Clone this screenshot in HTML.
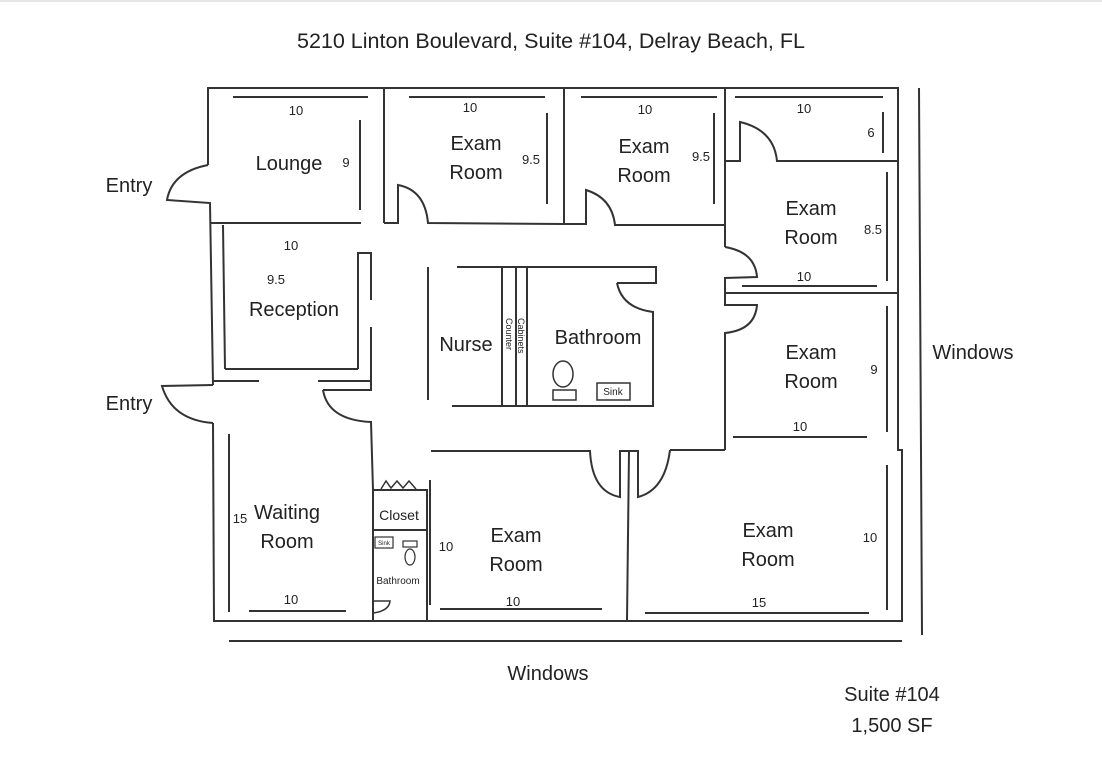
<!DOCTYPE html>
<html><head><meta charset="utf-8"><style>
html,body{margin:0;padding:0;background:#fff;}
svg{display:block}
text{font-family:"Liberation Sans",sans-serif;fill:#222;}
</style></head><body>
<svg width="1102" height="771" viewBox="0 0 1102 771" xmlns="http://www.w3.org/2000/svg">
<rect x="0" y="0" width="1102" height="2" fill="#e6e6e6"/>
<text x="551" y="48" font-size="21.5" text-anchor="middle" fill="#000">5210 Linton Boulevard, Suite #104, Delray Beach, FL</text>
<g fill="none" stroke="#333" stroke-width="2">
<!-- outer -->
<polyline points="208,165 208,88 898,88 898,450 902,450 902,621 214,621 213,423"/>
<path d="M208,165 Q172,172 167,200 L210,203 L213,385"/>
<path d="M213,385 L162,386 Q172,420 213,423"/>
<line x1="213" y1="381" x2="259" y2="381"/>
<!-- lounge -->
<line x1="210" y1="223" x2="361" y2="223"/>
<line x1="233" y1="97" x2="368" y2="97"/>
<line x1="360" y1="120" x2="360" y2="210"/>
<!-- reception -->
<line x1="223" y1="225" x2="225" y2="369"/>
<line x1="225" y1="369" x2="358" y2="369"/>
<polyline points="358,369 358,253 371,253 371,300"/>
<polyline points="371,327 371,390 323,390"/>
<line x1="318" y1="381" x2="371" y2="381"/>
<path d="M323,390 Q328,420 371,422 L373,490"/>
<!-- waiting -->
<line x1="229" y1="434" x2="229" y2="612"/>
<line x1="249" y1="611" x2="346" y2="611"/>
<!-- closet / bath -->
<polyline points="373,621 373,490 427,490 427,621"/>
<line x1="373" y1="530" x2="427" y2="530"/>
<polyline points="381,489 386,481 391,488 397,481 403,488 409,481 416,489" stroke-width="1.5"/>
<rect x="375" y="537" width="18" height="11" stroke-width="1.2"/>
<rect x="403" y="541" width="14" height="6" stroke-width="1.2"/>
<ellipse cx="410" cy="557" rx="5" ry="8" stroke-width="1.2"/>
<path d="M373,601 L390,601 Q389,611 373,613" stroke-width="1.5"/>
<!-- top exam rooms -->
<line x1="384" y1="88" x2="384" y2="223"/>
<path d="M384,223 L398,223 L398,185 Q425,190 428,223 L564,224"/>
<line x1="564" y1="88" x2="564" y2="224"/>
<path d="M564,224 L586,224 L586,190 Q612,198 615,225 L725,225"/>
<line x1="409" y1="97" x2="545" y2="97"/>
<line x1="547" y1="113" x2="547" y2="204"/>
<line x1="581" y1="97" x2="717" y2="97"/>
<line x1="714" y1="113" x2="714" y2="204"/>
<!-- right column -->
<line x1="725" y1="88" x2="725" y2="247"/>
<path d="M725,161 L740,161 L740,122 Q774,130 777,161 L898,161"/>
<line x1="735" y1="97" x2="883" y2="97"/>
<line x1="883" y1="112" x2="883" y2="153"/>
<path d="M725,247 Q755,252 757,277 L725,278 L725,305 L757,305 Q755,330 725,333 L725,450"/>
<line x1="725" y1="293" x2="898" y2="293"/>
<line x1="742" y1="286" x2="877" y2="286"/>
<line x1="887" y1="172" x2="887" y2="281"/>
<line x1="887" y1="306" x2="887" y2="432"/>
<line x1="733" y1="437" x2="867" y2="437"/>
<line x1="725" y1="450" x2="670" y2="450"/>
<!-- nurse/bath -->
<line x1="428" y1="267" x2="428" y2="400"/>
<polyline points="457,267 656,267 656,283 617,283"/>
<path d="M617,283 Q622,308 653,312 L653,406 L452,406"/>
<line x1="502" y1="267" x2="502" y2="406"/>
<line x1="516" y1="267" x2="516" y2="406"/>
<line x1="527" y1="267" x2="527" y2="406"/>
<ellipse cx="563" cy="374" rx="10" ry="13" stroke-width="1.5"/>
<rect x="553" y="390" width="23" height="10" stroke-width="1.5"/>
<rect x="597" y="383" width="33" height="17" stroke-width="1.5"/>
<!-- bottom exam rooms -->
<path d="M431,451 L590,451 Q592,492 620,497 L620,451 L638,451 L638,497 Q665,490 670,450"/>
<line x1="629" y1="451" x2="627" y2="621"/>
<line x1="430" y1="480" x2="430" y2="605"/>
<line x1="440" y1="609" x2="602" y2="609"/>
<line x1="645" y1="613" x2="869" y2="613"/>
<line x1="887" y1="465" x2="887" y2="610"/>
<!-- windows -->
<line x1="229" y1="641" x2="902" y2="641"/>
<line x1="919" y1="88" x2="922" y2="635"/>
</g>
<g font-size="20" text-anchor="middle">
<text x="129" y="192">Entry</text>
<text x="129" y="410">Entry</text>
<text x="289" y="170">Lounge</text>
<text x="476" y="150">Exam</text><text x="476" y="179">Room</text>
<text x="644" y="153">Exam</text><text x="644" y="182">Room</text>
<text x="811" y="215">Exam</text><text x="811" y="244">Room</text>
<text x="811" y="359">Exam</text><text x="811" y="388">Room</text>
<text x="294" y="316">Reception</text>
<text x="466" y="351">Nurse</text>
<text x="598" y="344">Bathroom</text>
<text x="287" y="519">Waiting</text><text x="287" y="548">Room</text>
<text x="516" y="542">Exam</text><text x="516" y="571">Room</text>
<text x="768" y="537">Exam</text><text x="768" y="566">Room</text>
<text x="973" y="359">Windows</text>
<text x="548" y="680">Windows</text>
<text x="892" y="701">Suite #104</text>
<text x="892" y="732">1,500 SF</text>
<text x="399" y="520" font-size="14">Closet</text>
</g>
<g font-size="13" text-anchor="middle">
<text x="296" y="115">10</text><text x="346" y="167">9</text>
<text x="470" y="112">10</text><text x="531" y="164">9.5</text>
<text x="645" y="114">10</text><text x="701" y="161">9.5</text>
<text x="804" y="113">10</text><text x="871" y="137">6</text>
<text x="873" y="234">8.5</text><text x="804" y="281">10</text>
<text x="874" y="374">9</text><text x="800" y="431">10</text>
<text x="291" y="250">10</text><text x="276" y="284">9.5</text>
<text x="240" y="523">15</text><text x="291" y="604">10</text>
<text x="446" y="551">10</text><text x="513" y="606">10</text>
<text x="759" y="607">15</text><text x="870" y="542">10</text>
<text x="398" y="584" font-size="10">Bathroom</text>
<text x="613" y="395" font-size="10">Sink</text>
<text x="384" y="545" font-size="6">Sink</text>
</g>
<text font-size="9" transform="translate(506,318) rotate(90)">Counter</text>
<text font-size="9" transform="translate(518,318) rotate(90)">Cabinets</text>
</svg>
</body></html>
